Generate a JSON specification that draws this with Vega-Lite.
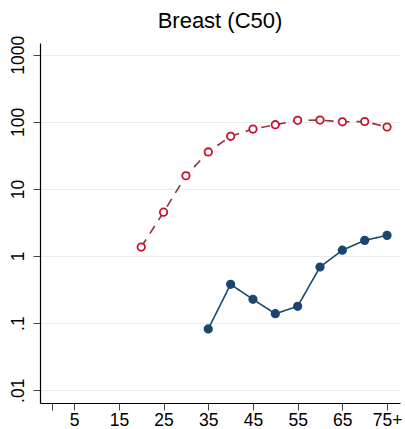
{
  "$schema": "https://vega.github.io/schema/vega-lite/v6.json",
  "width": 360,
  "height": 360,
  "autosize": {"type": "none"},
  "padding": {"left": 40, "top": 43, "right": 5, "bottom": 26},
  "background": "white",
  "title": {"text": "Breast (C50)", "fontSize": 22, "font": "Liberation Sans", "fontWeight": "normal", "color": "#000000", "anchor": "middle", "offset": 2},
  "config": {"view": {"stroke": null}, "font": "Liberation Sans"},
  "data": {"values": [
    {"age": 20, "series": "expected", "rate": 1.36},
    {"age": 25, "series": "expected", "rate": 4.5},
    {"age": 30, "series": "expected", "rate": 15.7},
    {"age": 35, "series": "expected", "rate": 35.5},
    {"age": 40, "series": "expected", "rate": 60.8},
    {"age": 45, "series": "expected", "rate": 78},
    {"age": 50, "series": "expected", "rate": 90.5},
    {"age": 55, "series": "expected", "rate": 105},
    {"age": 60, "series": "expected", "rate": 106},
    {"age": 65, "series": "expected", "rate": 100},
    {"age": 70, "series": "expected", "rate": 101},
    {"age": 75, "series": "expected", "rate": 83.6},
    {"age": 35, "series": "observed", "rate": 0.082},
    {"age": 40, "series": "observed", "rate": 0.378},
    {"age": 45, "series": "observed", "rate": 0.226},
    {"age": 50, "series": "observed", "rate": 0.138},
    {"age": 55, "series": "observed", "rate": 0.178},
    {"age": 60, "series": "observed", "rate": 0.686},
    {"age": 65, "series": "observed", "rate": 1.22},
    {"age": 70, "series": "observed", "rate": 1.71},
    {"age": 75, "series": "observed", "rate": 2.03}
  ]},
  "encoding": {
    "x": {"field": "age", "type": "quantitative",
      "scale": {"domain": [-2.65, 77.9], "nice": false, "zero": false},
      "axis": {"title": null, "values": [0, 5, 15, 25, 35, 45, 55, 65, 75],
        "labelExpr": "datum.value == 0 ? '' : datum.value == 75 ? '75+' : datum.label",
        "grid": false, "domainColor": "#000000", "domainWidth": 1.2, "tickColor": "#444444", "tickSize": 7,
        "labelFontSize": 17.5, "labelColor": "#000000", "labelPadding": 1, "labelFlush": false, "labelOverlap": false}},
    "y": {"field": "rate", "type": "quantitative",
      "scale": {"type": "log", "domain": [0.00645, 1493], "nice": false},
      "axis": {"title": null, "values": [0.01, 0.1, 1, 10, 100, 1000],
        "labelExpr": "datum.value < 0.05 ? '.01' : datum.value < 0.5 ? '.1' : datum.value < 5 ? '1' : datum.value < 50 ? '10' : datum.value < 500 ? '100' : '1000'",
        "grid": true, "gridColor": "#ebebeb", "gridWidth": 1.2,
        "domainColor": "#000000", "domainWidth": 1.2, "tickColor": "#444444", "tickSize": 7,
        "labelAngle": 270, "labelAlign": "center", "labelBaseline": "alphabetic", "labelPadding": 10,
        "labelFontSize": 17.5, "labelColor": "#000000", "labelOverlap": false, "labelFlush": false}}
  },
  "resolve": {"scale": {"stroke": "independent"}},
  "layer": [
    {"mark": {"type": "line", "strokeWidth": 1.6},
     "encoding": {
       "stroke": {"field": "series", "type": "nominal", "scale": {"domain": ["expected", "observed"], "range": ["#90353b", "#1a476f"]}, "legend": null},
       "strokeDash": {"field": "series", "type": "nominal", "scale": {"domain": ["expected", "observed"], "range": [[9, 7], [1, 0]]}, "legend": null}
     }},
    {"mark": {"type": "point", "size": 55, "strokeWidth": 1.8, "opacity": 1},
     "encoding": {
       "stroke": {"field": "series", "type": "nominal", "scale": {"domain": ["expected", "observed"], "range": ["#c8102e", "#1a476f"]}, "legend": null},
       "fill": {"field": "series", "type": "nominal", "scale": {"domain": ["expected", "observed"], "range": ["#ffffff", "#1a476f"]}, "legend": null}
     }}
  ]
}
